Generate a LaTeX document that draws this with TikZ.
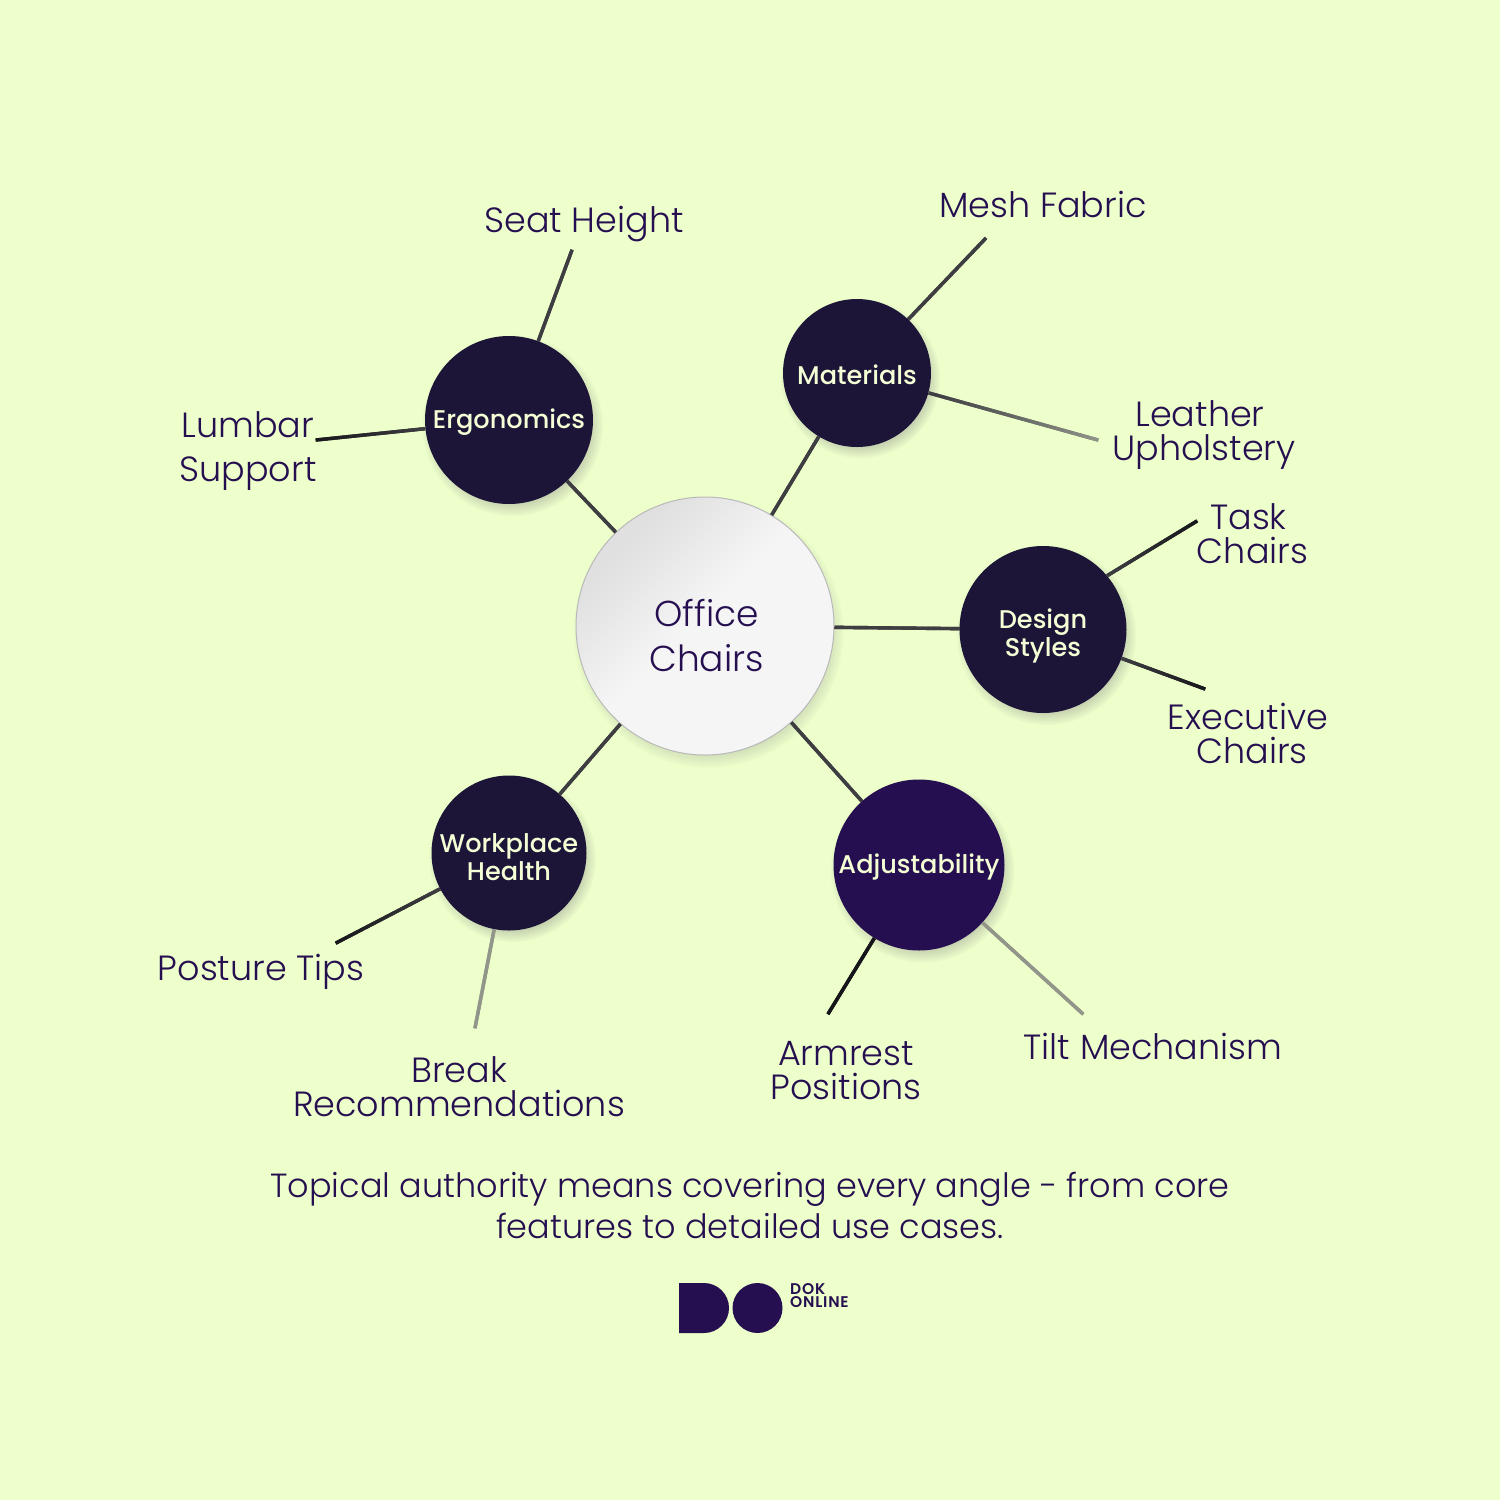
\documentclass[tikz,border=0pt]{standalone}
\usepackage{fontspec}
\setmainfont{Poppins Light}
\newfontfamily\hubfont{Poppins Medium}
\newfontfamily\logofont[LetterSpace=5]{Poppins SemiBold}
\usetikzlibrary{shadows,decorations.markings}
\definecolor{pagebg}{HTML}{EDFFCB}
\definecolor{inkviolet}{HTML}{260F50}
\definecolor{hubdark}{HTML}{1C1538}
\definecolor{hubtext}{HTML}{F4FFD6}
\definecolor{edgeblack}{HTML}{16161A}
\definecolor{edgemid}{HTML}{3E3E42}
\definecolor{edgegrey}{HTML}{92958A}
\definecolor{officelight}{HTML}{F5F5F5}
\definecolor{officedark}{HTML}{E0E0E0}
\pgfdeclareverticalshading{officeshade}{100bp}{color(0bp)=(officelight); color(52bp)=(officelight); color(72bp)=(officedark); color(100bp)=(officedark)}
% pushes the text of a node down inside its circle
\newcommand{\lowerby}[1]{\rule{0pt}{#1}}
\tikzset{
	hub/.style={circle,fill=hubdark,text=hubtext,align=center,inner sep=0pt,
		font=\fontsize{25.6}{28}\selectfont\hubfont,
		circular drop shadow={shadow xshift=3pt,shadow yshift=-5pt,shadow scale=1.08,opacity=.35}},
	leaf/.style={text=inkviolet,align=center,inner sep=0pt,font=\fontsize{35}{34}\selectfont},
	looseleaf/.style={leaf,font=\fontsize{35}{44}\selectfont},
	fadeedge/.style 2 args={line width=3.4pt,draw=#1!50!#2,postaction={decorate,decoration={markings,
		mark=between positions 0 and 0.96 step 0.05 with {
			\pgfmathsetmacro{\fadepct}{105-5*\pgfkeysvalueof{/pgf/decoration/mark info/sequence number}}
			\pgfmathsetmacro{\seglen}{0.05*\pgfdecoratedpathlength+.5}
			\fill[#1!\fadepct!#2] (0pt,-1.7pt) rectangle (\seglen pt,1.7pt);}}}},
}
\begin{document}
\begin{tikzpicture}[x=1pt,y=-1pt]
	\useasboundingbox[fill=pagebg] (0,0) rectangle (1500,1500);
	
	% The centre and its five hubs
	\node[circle,minimum size=258pt,inner sep=0pt,draw=gray!55,line width=1pt,
		shading=officeshade,shading angle=45,
		text=inkviolet,align=center,font=\fontsize{36}{45}\selectfont,
		circular drop shadow={shadow xshift=3pt,shadow yshift=-6pt,shadow scale=1.05,opacity=.35}]
		(office) at (705,626) {\lowerby{47pt}\hspace*{3pt}Office\\\hspace*{3pt}Chairs};
	\node[hub,minimum size=168pt] (ergo) at (509,420) {\lowerby{24pt}Ergonomics};
	\node[hub,minimum size=148pt] (materials) at (857,373) {\lowerby{24pt}Materials};
	\node[hub,minimum size=167pt] (design) at (1043,629.5) {\lowerby{32pt}Design\\Styles};
	\node[hub,minimum size=171pt,fill=inkviolet] (adjust) at (919,865) {\lowerby{24pt}Adjustability};
	\node[hub,minimum size=155pt] (workplace) at (509,853) {\lowerby{28pt}Workplace\\Health};
	
	% Labels of the leaves
	\node[leaf] (seat) at (584,224) {Seat Height};
	\node[looseleaf] (lumbar) at (248,451) {Lumbar\\Support};
	\node[leaf] (mesh) at (1043,204) {Mesh Fabric};
	\node[leaf] (leather) at (1204,435) {Leather\hspace*{8pt}\\Upholstery};
	\node[leaf] (task) at (1252.5,534) {Task\hspace*{8pt}\\Chairs};
	\node[leaf] (executive) at (1252,733) {Executive\hspace*{8pt}\\Chairs};
	\node[leaf] (tilt) at (1153,1046) {Tilt Mechanism};
	\node[leaf] (armrest) at (846,1071) {Armrest\\Positions};
	\node[leaf] (break) at (459,1087) {Break\\Recommendations};
	\node[leaf] (posture) at (261,972) {Posture Tips};
	
	% Free ends of the edges
	\coordinate (seatend) at (572,250);
	\coordinate (lumbarend) at (316,440);
	\coordinate (meshend) at (986,238);
	\coordinate (leatherend) at (1098,440);
	\coordinate (taskend) at (1197,521);
	\coordinate (executiveend) at (1205,689);
	\coordinate (tiltend) at (1083,1014);
	\coordinate (armrestend) at (828,1014);
	\coordinate (breakend) at (475,1028);
	\coordinate (postureend) at (336,943);
	
	% Edges from the centre to the hubs
	\draw[fadeedge={edgemid}{edgemid}] (office) -- (ergo);
	\draw[fadeedge={edgemid}{edgemid}] (office) -- (materials);
	\draw[fadeedge={edgemid}{edgemid}] (office) -- (design);
	\draw[fadeedge={edgemid}{edgemid}] (office) -- (adjust);
	\draw[fadeedge={edgemid}{edgemid}] (office) -- (workplace);
	
	% Edges from the hubs to the leaves
	\draw[fadeedge={edgemid}{edgemid}] (ergo) -- (seatend);
	\draw[fadeedge={edgemid}{edgeblack}] (ergo) -- (lumbarend);
	\draw[fadeedge={edgemid}{edgemid}] (materials) -- (meshend);
	\draw[fadeedge={edgemid}{edgegrey}] (materials) -- (leatherend);
	\draw[fadeedge={edgemid}{edgeblack}] (design.40) -- (taskend);
	\draw[fadeedge={edgemid}{edgeblack}] (design) -- (executiveend);
	\draw[fadeedge={edgegrey}{edgegrey}] (adjust) -- (tiltend);
	\draw[fadeedge={edgeblack}{edgeblack}] (adjust) -- (armrestend);
	\draw[fadeedge={edgegrey}{edgegrey}] (workplace) -- (breakend);
	\draw[fadeedge={edgemid}{edgeblack}] (workplace) -- (postureend);
	
	% Caption and logo
	\node[text=inkviolet,align=center,font=\fontsize{33.5}{41}\selectfont] (caption) at (750,1205)
		{Topical authority means covering every angle - from core\\features to detailed use cases.};
	\fill[inkviolet] (679,1283) -- (704,1283) arc[start angle=-90,end angle=90,radius=25] -- (679,1333) -- cycle;
	\fill[inkviolet] (757.5,1308) circle[radius=25];
	\node[anchor=north west,text=inkviolet,align=left,inner sep=0pt,font=\fontsize{15.5}{13}\selectfont\logofont] (logotext) at (790,1283.5) {DOK\\ONLINE};
\end{tikzpicture}
\end{document}
